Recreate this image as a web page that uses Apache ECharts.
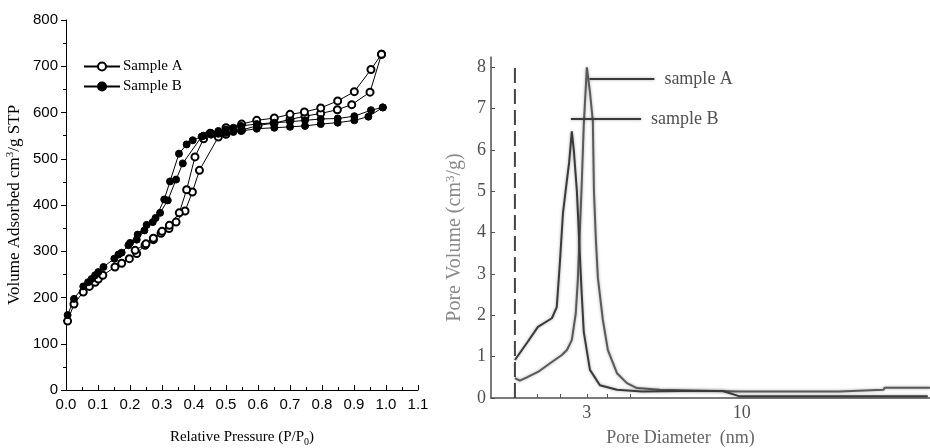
<!DOCTYPE html>
<html>
<head>
<meta charset="utf-8">
<script src="https://cdn.jsdelivr.net/npm/echarts@6/dist/echarts.min.js"></script>
<style>
  html, body { margin: 0; padding: 0; background: #fff; }
  #chart { width: 930px; height: 448px; }
</style>
</head>
<body>
<div id="chart"></div>
<script>
// Left panel: N2 isotherms, [P/P0, volume]
const sampleAAds = [[0.005,149],[0.025,186],[0.054,212],[0.073,224],[0.091,233],[0.101,240],[0.115,248],[0.153,266],
  [0.174,274],[0.198,284],[0.221,295],[0.247,313],[0.273,325],[0.297,339],[0.322,349],[0.344,363],[0.372,387],
  [0.395,428],[0.417,475],[0.476,547],[0.5,553],[0.549,562],[0.6,572],[0.65,577],[0.7,585],[0.747,592],
  [0.796,598],[0.848,606],[0.893,617],[0.95,644],[0.986,726]];
const sampleADes = [[0.986,726],[0.953,693],[0.901,645],[0.849,625],[0.796,610],[0.745,601],[0.7,596],[0.651,588],
  [0.596,583],[0.549,575],[0.5,567],[0.45,555],[0.43,543],[0.403,504],[0.377,433],[0.354,383],[0.323,356],
  [0.3,343],[0.273,328],[0.25,316],[0.216,302]];
const sampleBAds = [[0.005,162],[0.025,197],[0.054,224],[0.069,233],[0.08,240],[0.091,248],[0.101,255],[0.117,266],
  [0.151,284],[0.164,293],[0.174,297],[0.195,313],[0.221,325],[0.245,345],[0.271,363],[0.294,383],[0.318,410],
  [0.344,455],[0.365,490],[0.424,548],[0.453,552],[0.476,554],[0.499,556],[0.523,558],[0.547,560],[0.596,565],
  [0.651,567],[0.7,569],[0.747,571],[0.796,575],[0.849,578],[0.901,583],[0.945,591],[0.99,611]];
const sampleBDes = [[0.99,611],[0.953,605],[0.901,592],[0.849,587],[0.796,586],[0.747,583],[0.7,580],[0.651,578],
  [0.596,575],[0.547,571],[0.523,567],[0.499,563],[0.476,560],[0.453,556],[0.43,550],[0.396,540],[0.377,531],
  [0.353,511],[0.325,451],[0.307,412],[0.28,372],[0.252,357],[0.224,336],[0.2,318]];

// Right panel: pore size distribution, [diameter nm, volume]
const poreA = [[-0.25,0.48],[-0.03,0.42],[0.29,0.5],[0.79,0.63],[1.42,0.87],[1.87,1.04],[2.1,1.16],[2.32,1.4],
  [2.5,2.05],[2.59,2.85],[2.68,4.0],[2.77,5.2],[2.86,6.6],[3.0,8.0],[3.14,7.4],[3.27,6.7],[3.32,5.0],[3.41,3.8],
  [3.5,2.9],[3.72,1.9],[3.95,1.16],[4.36,0.6],[4.81,0.36],[5.26,0.24],[6.3,0.2],[7.2,0.19],[9.9,0.16],
  [14.4,0.16],[14.45,0.2],[16.4,0.2],[16.45,0.25],[18.5,0.25]];
const poreB = [[-0.25,0.92],[0.29,1.33],[0.79,1.72],[1.42,1.93],[1.64,2.2],[1.78,3.26],[1.92,4.47],[2.1,5.27],
  [2.2,5.7],[2.32,6.45],[2.41,6.0],[2.55,5.0],[2.68,3.5],[2.77,2.5],[2.86,1.6],[3.14,0.68],[3.59,0.31],
  [4.36,0.2],[5.5,0.16],[7.2,0.17],[9.15,0.17],[9.9,0.04],[18.4,0.04]];
const guideDash = [[-0.25,0],[-0.25,8.05]];
const leaderA = [[3.12,7.72],[6.05,7.72]];
const leaderB = [[2.28,6.75],[5.45,6.75]];
const diameterLabels = [3, 10];
const diameterTicks = [0.75, 1.8, 3, 3.9, 4.95];

const serif = '"Liberation Serif", "DejaVu Serif", serif';
const sans = '"Liberation Sans", Arial, sans-serif';
const scan = '#505050';

var chart = echarts.init(document.getElementById('chart'));

function isoSeries(name, data, filled) {
  return {
    name: name, type: 'line', xAxisIndex: 0, yAxisIndex: 0, data: data,
    symbol: filled ? 'circle' : 'emptyCircle', symbolSize: 7,
    lineStyle: {color: '#000', width: 1},
    itemStyle: {color: '#000', borderColor: '#000', borderWidth: 1}
  };
}

function poreSeries(name, data, color, extra) {
  return Object.assign({
    name: name, type: 'line', xAxisIndex: 1, yAxisIndex: 1, data: data,
    symbol: 'none', silent: true,
    lineStyle: {color: color, width: 2, shadowBlur: 3, shadowColor: 'rgba(0,0,0,0.35)'}
  }, extra || {});
}

var options = {
  animation: false,
  backgroundColor: '#fff',
  legend: {
    data: ['Sample A', 'Sample B'],
    orient: 'vertical', left: 83, top: 59, padding: 0,
    itemWidth: 36, itemHeight: 10, itemGap: 5,
    textStyle: {fontFamily: serif, fontSize: 15, color: '#000', padding: [0, 0, 0, -2]}
  },
  grid: [
    {left: 66, top: 20, width: 352, height: 370, outerBoundsMode: 'none'},
    {left: 491, top: 57, width: 439, height: 341, outerBoundsMode: 'none'}
  ],
  xAxis: [{
    gridIndex: 0, type: 'value', min: 0, max: 1.1, interval: 0.1,
    axisLine: {onZero: false, lineStyle: {color: '#000', width: 1}},
    axisTick: {inside: true, length: 5, lineStyle: {color: '#000'}},
    minorTick: {show: true, splitNumber: 2, length: 3, lineStyle: {color: '#000'}},
    splitLine: {show: false},
    axisLabel: {formatter: v => v.toFixed(1), fontFamily: sans, fontSize: 15, color: '#000', margin: 7},
    name: 'Relative Pressure (P/P{sub|0})', nameLocation: 'middle', nameGap: 37,
    nameTextStyle: {fontFamily: serif, fontSize: 15, color: '#000',
      rich: {sub: {fontFamily: serif, fontSize: 10, color: '#000', padding: [10, 0, 0, 0]}}}
  }, {
    gridIndex: 1, type: 'value', min: -1.33, max: 18.5,
    axisLine: {onZero: false, lineStyle: {color: scan, width: 1.5}},
    axisTick: {inside: true, length: 4, customValues: diameterTicks, lineStyle: {color: scan}},
    splitLine: {show: false},
    axisLabel: {customValues: diameterLabels, fontFamily: serif, fontSize: 18, color: scan, margin: 6},
    name: 'Pore Diameter  (nm)', nameLocation: 'middle', nameGap: 31,
    nameTextStyle: {fontFamily: serif, fontSize: 18, color: '#666', padding: [0, 60, 0, 0]}
  }],
  yAxis: [{
    gridIndex: 0, type: 'value', min: 0, max: 800, interval: 100,
    axisLine: {show: true, onZero: false, lineStyle: {color: '#000', width: 1}},
    axisTick: {show: true, length: 5, lineStyle: {color: '#000'}},
    minorTick: {show: true, splitNumber: 2, length: 3, lineStyle: {color: '#000'}},
    splitLine: {show: false},
    axisLabel: {fontFamily: sans, fontSize: 15, color: '#000', margin: 8},
    name: 'Volume Adsorbed cm{sup|3}/g STP', nameLocation: 'middle', nameGap: 42,
    nameTextStyle: {fontFamily: serif, fontSize: 17, color: '#000',
      rich: {sup: {fontFamily: serif, fontSize: 11, color: '#000', padding: [0, 0, 8, 0]}}}
  }, {
    gridIndex: 1, type: 'value', min: 0, max: 8.25, interval: 1,
    axisLine: {show: true, onZero: false, lineStyle: {color: scan, width: 1.5}},
    axisTick: {show: true, inside: true, length: 4, lineStyle: {color: scan}},
    splitLine: {show: false},
    axisLabel: {showMaxLabel: false, fontFamily: serif, fontSize: 18, color: scan, margin: 5},
    name: 'Pore Volume (cm{sup|3}/g)', nameLocation: 'middle', nameGap: 26,
    nameTextStyle: {fontFamily: serif, fontSize: 20, color: '#8a8a8a', padding: [0, 20, 0, 0],
      rich: {sup: {fontFamily: serif, fontSize: 13, color: '#8a8a8a', padding: [0, 0, 8, 0]}}}
  }],
  series: [
    isoSeries('Sample A', sampleAAds, false),
    isoSeries('Sample A', sampleADes, false),
    isoSeries('Sample B', sampleBAds, true),
    isoSeries('Sample B', sampleBDes, true),
    poreSeries('poreA', poreA, '#5a5a5a'),
    poreSeries('poreB', poreB, '#3a3a3a'),
    poreSeries('guide', guideDash, '#444', {lineStyle: {color: '#444', width: 2, type: [15, 6]}}),
    poreSeries('leaderA', leaderA, '#3a3a3a', {
      endLabel: {show: true, formatter: 'sample A', distance: 10, fontFamily: serif, fontSize: 18, color: scan}
    }),
    poreSeries('leaderB', leaderB, '#3a3a3a', {
      endLabel: {show: true, formatter: 'sample B', distance: 10, fontFamily: serif, fontSize: 18, color: scan}
    })
  ]
};

options && chart.setOption(options);
</script>
</body>
</html>
